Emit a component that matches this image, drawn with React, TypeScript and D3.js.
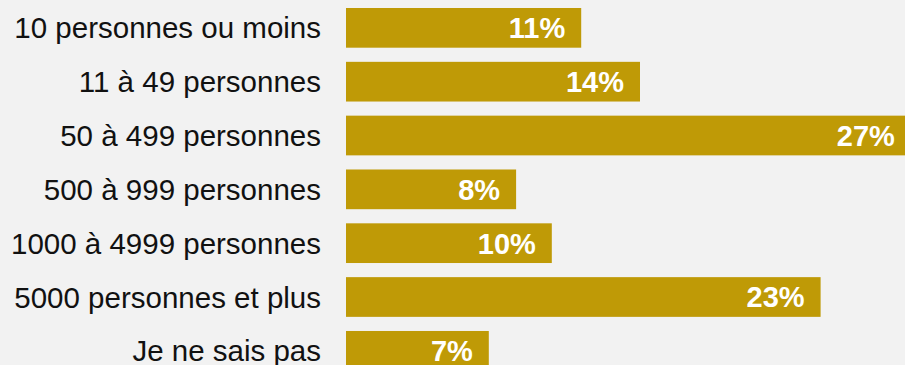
import React from "react";
import * as d3 from "d3";

const categories = [
  "10 personnes ou moins",
  "11 à 49 personnes",
  "50 à 499 personnes",
  "500 à 999 personnes",
  "1000 à 4999 personnes",
  "5000 personnes et plus",
  "Je ne sais pas",
];
const values = [11.2, 14.0, 26.9, 8.1, 9.8, 22.6, 6.8];
const valueLabels = ["11%", "14%", "27%", "8%", "10%", "23%", "7%"];

const W = 905;
const H = 365;
const BAR_X0 = 346;
const BG = "#f2f2f2";
const BAR = "#bf9a06";

export default function App() {
  const x = d3.scaleLinear().domain([0, 10]).range([BAR_X0, BAR_X0 + 210]);
  const step = 53.83;
  const bh = 39.7;
  const pi = 1 - bh / step;
  const r0 = 8 - (step - bh) / 2;
  const y = d3
    .scaleBand<string>()
    .domain(categories)
    .range([r0, r0 + step * categories.length])
    .paddingInner(pi)
    .paddingOuter(pi / 2);

  return (
    <div style={{ position: "fixed", left: 0, top: 0, width: W, height: H, background: BG, overflow: "hidden" }}>
      <svg width={W} height={H} style={{ display: "block", fontFamily: "'Liberation Sans', Arial, sans-serif" }}>
        <rect x={0} y={0} width={W} height={H} fill={BG} />
        {categories.map((c, i) => {
          const top = y(c) as number;
          const h = y.bandwidth();
          const cy = top + h / 2;
          const x1 = x(values[i]);
          return (
            <g key={c}>
              <rect x={x(0)} y={top} width={x1 - x(0)} height={h} fill={BAR} />
              <text x={321} y={cy} dy="0.36em" textAnchor="end" fontSize={29.5} fill="#111">
                {c}
              </text>
              <text x={x1 - 16} y={cy} dy="0.36em" textAnchor="end" fontSize={29} fontWeight="bold" fill="#fff">
                {valueLabels[i]}
              </text>
            </g>
          );
        })}
      </svg>
    </div>
  );
}
